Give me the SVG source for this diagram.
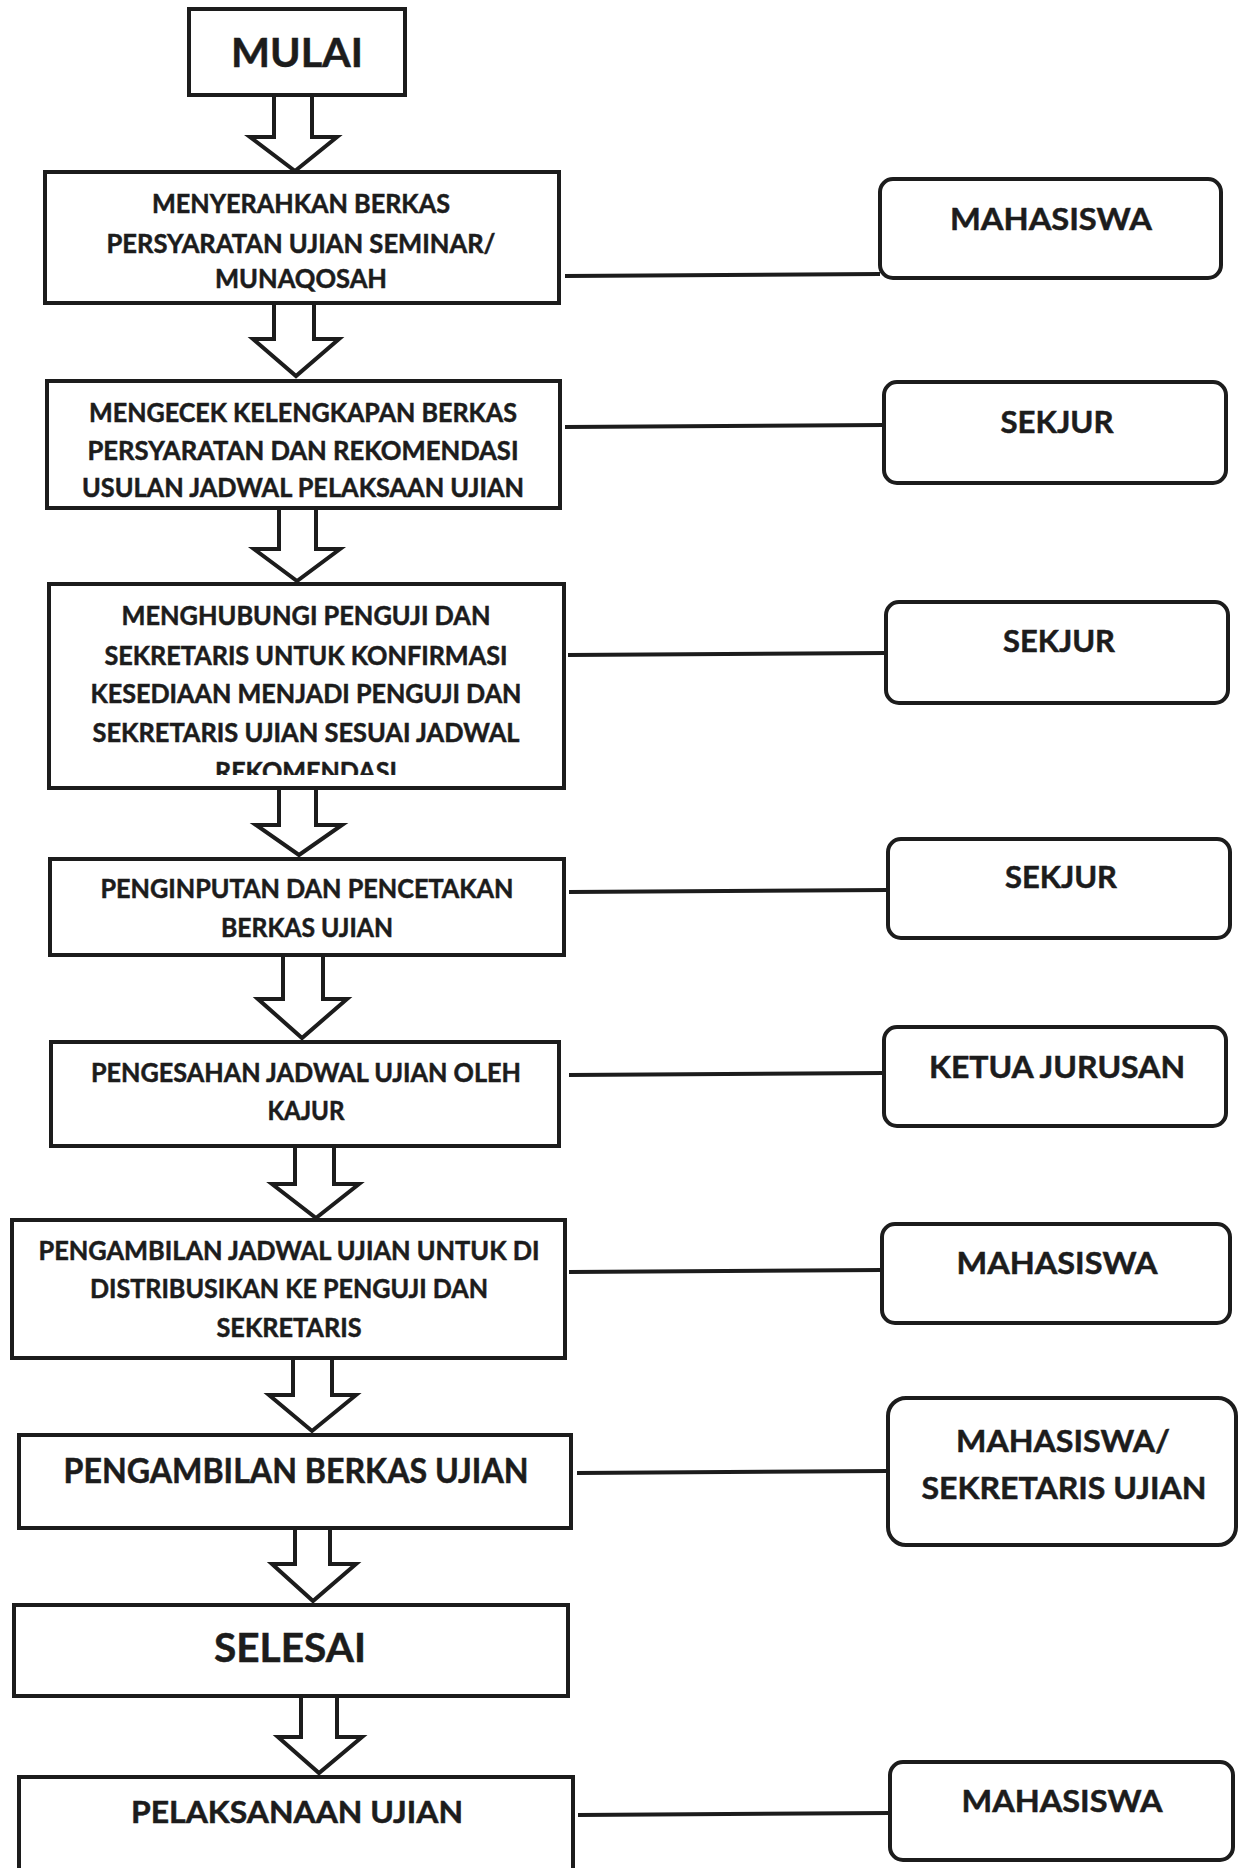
<svg xmlns="http://www.w3.org/2000/svg" width="1241" height="1868" viewBox="0 0 1241 1868">
<style>
.box{fill:#fff;stroke:#1c1c1c;stroke-width:4}
.rbox{fill:#fff;stroke:#1c1c1c;stroke-width:4}
.arr{fill:#fff;stroke:#1c1c1c;stroke-width:4;stroke-linejoin:miter}
.con{stroke:#1c1c1c;stroke-width:4;fill:none}
text{font-family:Lato,"Open Sans","Liberation Sans",sans-serif;font-weight:bold;fill:#1c1c1c;stroke:#1c1c1c;stroke-width:0.5;text-anchor:middle}
.s{font-size:26px}
.r{font-size:31px}
</style>
<defs>
<clipPath id="clip4"><rect x="49" y="584" width="515" height="191"/></clipPath>
</defs>
<rect width="1241" height="1868" fill="#fff"/>

<g id="connectors">
<line class="con" x1="565" y1="276" x2="880" y2="274"/>
<line class="con" x1="565" y1="427" x2="884" y2="425"/>
<line class="con" x1="568" y1="655" x2="886" y2="653"/>
<line class="con" x1="569" y1="892" x2="888" y2="890"/>
<line class="con" x1="569" y1="1075" x2="884" y2="1073"/>
<line class="con" x1="569" y1="1272" x2="882" y2="1270"/>
<line class="con" x1="577" y1="1473" x2="888" y2="1471"/>
<line class="con" x1="578" y1="1815" x2="890" y2="1813"/>
<path class="arr" d="M274,97 L274,137 L250,137 L295,171 L337,137 L312,137 L312,97"/>
<path class="arr" d="M274,305 L274,339 L253,339 L296,376 L339,339 L314,339 L314,305"/>
<path class="arr" d="M279,510 L279,549 L254,549 L297,581 L340,549 L316,549 L316,510"/>
<path class="arr" d="M279,790 L279,825 L256,825 L299,855 L342,825 L316,825 L316,790"/>
<path class="arr" d="M283,957 L283,999 L258,999 L302,1038 L347,999 L323,999 L323,957"/>
<path class="arr" d="M295,1148 L295,1184 L272,1184 L316,1218 L359,1184 L334,1184 L334,1148"/>
<path class="arr" d="M293,1360 L293,1395 L269,1395 L312,1431 L356,1395 L332,1395 L332,1360"/>
<path class="arr" d="M295,1530 L295,1564 L272,1564 L313,1601 L356,1564 L330,1564 L330,1530"/>
<path class="arr" d="M301,1698 L301,1737 L278,1737 L319,1773 L362,1737 L337,1737 L337,1698"/>
</g>

<g id="mulai">
<rect class="box" x="189" y="9" width="216" height="86"/>
<text x="297" y="67" font-size="40" textLength="132" lengthAdjust="spacingAndGlyphs">MULAI</text>
</g>

<g id="step1">
<rect class="box" x="45" y="172" width="514" height="131"/>
<text class="s" x="301" y="213" textLength="298" lengthAdjust="spacingAndGlyphs">MENYERAHKAN BERKAS</text>
<text class="s" x="301" y="253" textLength="389" lengthAdjust="spacingAndGlyphs">PERSYARATAN UJIAN SEMINAR/</text>
<text class="s" x="301" y="288" textLength="172" lengthAdjust="spacingAndGlyphs">MUNAQOSAH</text>
</g>

<g id="step2">
<rect class="box" x="47" y="381" width="513" height="127"/>
<text class="s" x="303" y="422" textLength="428" lengthAdjust="spacingAndGlyphs">MENGECEK KELENGKAPAN BERKAS</text>
<text class="s" x="303" y="460" textLength="431" lengthAdjust="spacingAndGlyphs">PERSYARATAN DAN REKOMENDASI</text>
<text class="s" x="303" y="497" textLength="442" lengthAdjust="spacingAndGlyphs">USULAN JADWAL PELAKSAAN UJIAN</text>
</g>

<g id="step3">
<rect class="box" x="49" y="584" width="515" height="204"/>
<g clip-path="url(#clip4)">
<text class="s" x="306" y="625" textLength="369" lengthAdjust="spacingAndGlyphs">MENGHUBUNGI PENGUJI DAN</text>
<text class="s" x="306" y="665" textLength="403" lengthAdjust="spacingAndGlyphs">SEKRETARIS UNTUK KONFIRMASI</text>
<text class="s" x="306" y="703" textLength="431" lengthAdjust="spacingAndGlyphs">KESEDIAAN MENJADI PENGUJI DAN</text>
<text class="s" x="306" y="742" textLength="427" lengthAdjust="spacingAndGlyphs">SEKRETARIS UJIAN SESUAI JADWAL</text>
<text class="s" x="306" y="781" textLength="182" lengthAdjust="spacingAndGlyphs">REKOMENDASI</text>
</g>
</g>

<g id="step4">
<rect class="box" x="50" y="859" width="514" height="96"/>
<text class="s" x="307" y="898" textLength="413" lengthAdjust="spacingAndGlyphs">PENGINPUTAN DAN PENCETAKAN</text>
<text class="s" x="307" y="937" textLength="172" lengthAdjust="spacingAndGlyphs">BERKAS UJIAN</text>
</g>

<g id="step5">
<rect class="box" x="51" y="1042" width="508" height="104"/>
<text class="s" x="306" y="1082" textLength="430" lengthAdjust="spacingAndGlyphs">PENGESAHAN JADWAL UJIAN OLEH</text>
<text class="s" x="306" y="1120" textLength="77" lengthAdjust="spacingAndGlyphs">KAJUR</text>
</g>

<g id="step6">
<rect class="box" x="12" y="1220" width="553" height="138"/>
<text class="s" x="289" y="1260" textLength="501" lengthAdjust="spacingAndGlyphs">PENGAMBILAN JADWAL UJIAN UNTUK DI</text>
<text class="s" x="289" y="1298" textLength="398" lengthAdjust="spacingAndGlyphs">DISTRIBUSIKAN KE PENGUJI DAN</text>
<text class="s" x="289" y="1337" textLength="145" lengthAdjust="spacingAndGlyphs">SEKRETARIS</text>
</g>

<g id="step7">
<rect class="box" x="19" y="1435" width="552" height="93"/>
<text x="296" y="1483" font-size="35" textLength="465" lengthAdjust="spacingAndGlyphs">PENGAMBILAN BERKAS UJIAN</text>
</g>

<g id="selesai">
<rect class="box" x="14" y="1605" width="554" height="91"/>
<text x="290" y="1662" font-size="40" textLength="152" lengthAdjust="spacingAndGlyphs">SELESAI</text>
</g>

<g id="step8">
<rect class="box" x="19" y="1777" width="554" height="100"/>
<text x="297" y="1823" font-size="30" textLength="332" lengthAdjust="spacingAndGlyphs">PELAKSANAAN UJIAN</text>
</g>

<g id="actor1">
<rect class="rbox" x="880" y="179" width="341" height="99" rx="13"/>
<text class="r" x="1051" y="230" textLength="202" lengthAdjust="spacingAndGlyphs">MAHASISWA</text>
</g>
<g id="actor2">
<rect class="rbox" x="884" y="382" width="342" height="101" rx="13"/>
<text class="r" x="1057" y="433" textLength="113" lengthAdjust="spacingAndGlyphs">SEKJUR</text>
</g>
<g id="actor3">
<rect class="rbox" x="886" y="602" width="342" height="101" rx="13"/>
<text class="r" x="1059" y="652" textLength="112" lengthAdjust="spacingAndGlyphs">SEKJUR</text>
</g>
<g id="actor4">
<rect class="rbox" x="888" y="839" width="342" height="99" rx="13"/>
<text class="r" x="1061" y="888" textLength="112" lengthAdjust="spacingAndGlyphs">SEKJUR</text>
</g>
<g id="actor5">
<rect class="rbox" x="884" y="1027" width="342" height="99" rx="13"/>
<text class="r" x="1057" y="1078" textLength="256" lengthAdjust="spacingAndGlyphs">KETUA JURUSAN</text>
</g>
<g id="actor6">
<rect class="rbox" x="882" y="1224" width="348" height="99" rx="13"/>
<text class="r" x="1057" y="1274" textLength="201" lengthAdjust="spacingAndGlyphs">MAHASISWA</text>
</g>
<g id="actor7">
<rect class="rbox" x="888" y="1398" width="348" height="147" rx="18"/>
<text class="r" x="1063" y="1452" font-size="32" textLength="214" lengthAdjust="spacingAndGlyphs">MAHASISWA/</text>
<text class="r" x="1064" y="1499" font-size="32" textLength="285" lengthAdjust="spacingAndGlyphs">SEKRETARIS UJIAN</text>
</g>
<g id="actor8">
<rect class="rbox" x="890" y="1762" width="343" height="98" rx="13"/>
<text class="r" x="1062" y="1812" textLength="201" lengthAdjust="spacingAndGlyphs">MAHASISWA</text>
</g>
</svg>
